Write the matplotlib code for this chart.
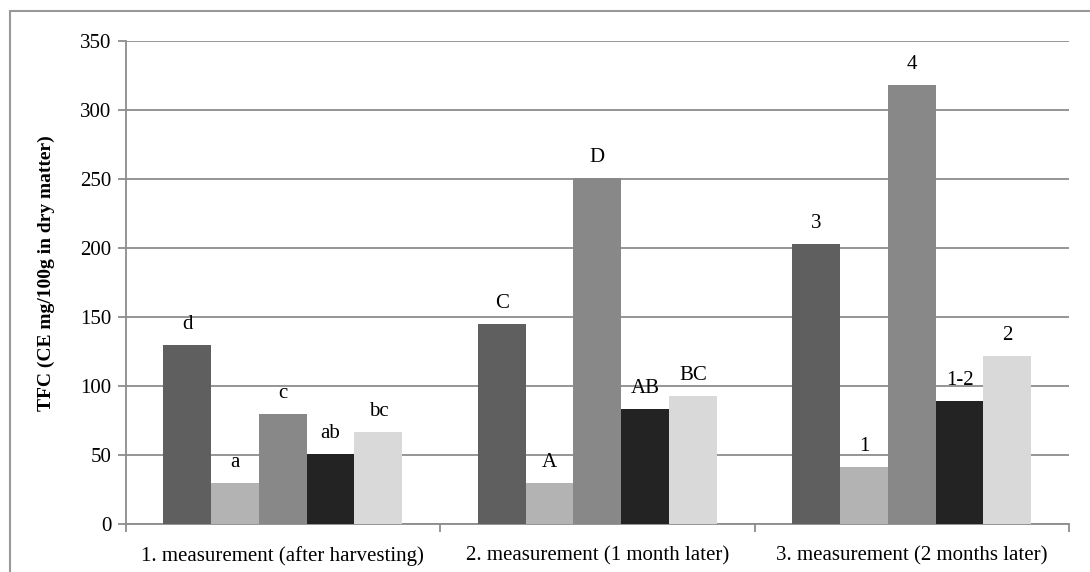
import numpy as np
import matplotlib.pyplot as plt
from matplotlib.patches import Rectangle

plt.rcParams['font.family'] = ['Liberation Serif', 'DejaVu Serif']

categories = ['1. measurement (after harvesting)',
              '2. measurement (1 month later)',
              '3. measurement (2 months later)']
series_values = [
    [130, 145, 203],
    [30, 30, 41],
    [80, 251, 318],
    [51, 83, 89],
    [67, 93, 122],
]
bar_labels = [
    ['d', 'C', '3'],
    ['a', 'A', '1'],
    ['c', 'D', '4'],
    ['ab', 'AB', '1-2'],
    ['bc', 'BC', '2'],
]
colors = ['#5f5f5f', '#b3b3b3', '#888888', '#232323', '#d9d9d9']

fig = plt.figure(figsize=(10.9, 5.72), dpi=100)
ax = fig.add_axes([125.5 / 1090, 1 - 524 / 572, (1069 - 125.5) / 1090, (524 - 41) / 572])

# outer border, only top/left visible
fig.patches.append(Rectangle((10 / 1090, -0.1), 1.2, 1 - 11 / 572 + 0.1,
                             transform=fig.transFigure, fill=False,
                             edgecolor='#999999', linewidth=1.5))

x = np.arange(len(categories))
w = 0.152
for i, (vals, labs) in enumerate(zip(series_values, bar_labels)):
    pos = x + (i - 2) * w
    ax.bar(pos, vals, width=w, color=colors[i], zorder=3)
    for p, v, t in zip(pos, vals, labs):
        ax.text(p, v + 8, t, ha='center', va='bottom', fontsize=15)

ax.set_xlim(-0.5, 2.5)
ax.set_ylim(0, 350)
ax.set_yticks(np.arange(0, 351, 50))
ax.yaxis.grid(True, color='#8c8c8c', linewidth=1.3, zorder=0)
ax.set_xticks(x)
ax.set_xticklabels(categories, fontsize=15)
ax.set_xticks([-0.5, 0.5, 1.5, 2.5], minor=True)
ax.tick_params(axis='x', which='major', length=0, pad=16)
ax.tick_params(axis='x', which='minor', length=6, color='#8c8c8c', width=1.3)
ax.tick_params(axis='y', length=6, color='#8c8c8c', width=1.3, labelsize=15, pad=4)

for s in ['top', 'right']:
    ax.spines[s].set_visible(False)
for s in ['left', 'bottom']:
    ax.spines[s].set_color('#8c8c8c')
    ax.spines[s].set_linewidth(1.3)

ax.set_ylabel('TFC (CE mg/100g in dry matter)', fontsize=14, fontweight='bold')
ax.yaxis.set_label_coords(-0.075, 0.52)

fig.savefig('out.png', dpi=100)
